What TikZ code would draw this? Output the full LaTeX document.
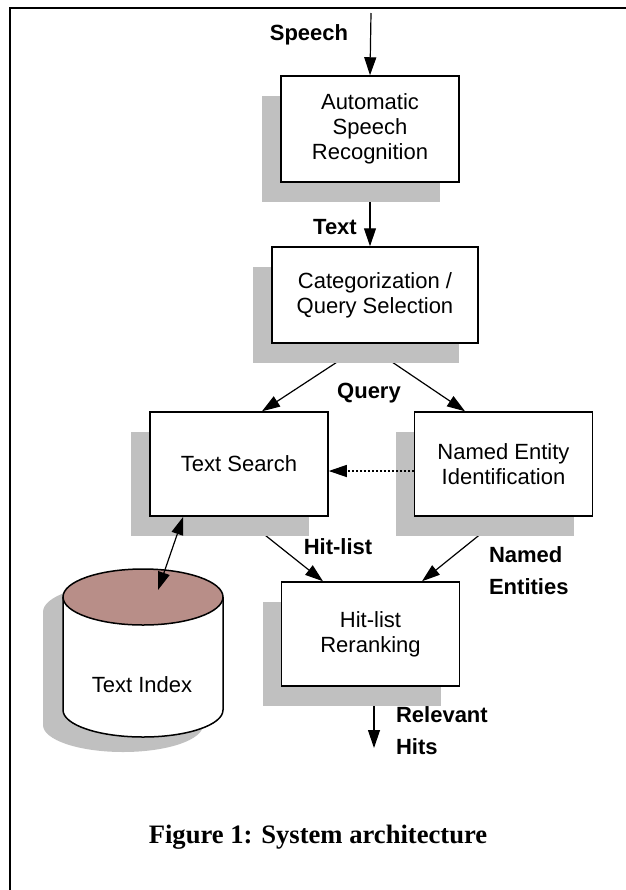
\documentclass[tikz,border=0pt]{standalone}
\usepackage{fontspec}
\setmainfont{Liberation Serif}
\setsansfont{Liberation Sans}
\usetikzlibrary{
  arrows.meta,
  backgrounds,
  calc,
  shadows,
  shapes.geometric
}
\definecolor{shadeGray}{HTML}{C0C0C0}
\definecolor{indexTop}{HTML}{B88E88}
\tikzset{
  every node/.style={font=\sffamily\fontsize{11}{12.5}\selectfont, text=black},
  tag/.style={font=\sffamily\bfseries\fontsize{11}{16}\selectfont, align=left},
  box/.style={
    draw,
    line width=0.75pt,
    fill=white,
    inner sep=0pt,
    minimum width=89pt,
    minimum height=52pt,
    align=center,
    drop shadow={shadow xshift=-9.5pt, shadow yshift=-9.75pt,
      fill=shadeGray, opacity=1}
  },
  lid/.style={
    ellipse,
    draw,
    line width=0.75pt,
    fill=indexTop,
    inner sep=0pt,
    minimum width=80pt,
    minimum height=28pt
  },
  flow/.style={
    -{Triangle[length=9pt,width=6pt]},
    line width=0.6pt
  },
  hint/.style={
    flow,
    dash pattern=on 1pt off 1pt
  }
}

\begin{document}
\begin{tikzpicture}[x=0.5pt,y=-0.5pt]
  \useasboundingbox (0,0) rectangle (626,890);

  % page frame
  \draw[line width=1.35pt] (10,890) -- (10,8) -- (626,8);

  % processing stages
  \node[box, minimum height=53pt] (asr) at (370,129) {Automatic\\Speech\\Recognition};
  \node[box, minimum width=103pt, minimum height=48pt] (cat) at (375,295)
    {Categorization /\\Query Selection};
  \node[box] (ts) at (239,464) {Text Search};
  \node[box] (ne) at (503.5,464) {Named Entity\\Identification};
  \node[box] (rr) at (370.5,634) {Hit-list\\Reranking};

  % index store: shadow, body, then the lid
  \begin{scope}[shift={(-20,15)}]
    \fill[shadeGray] (63,597) -- (63,710)
      arc[start angle=180, end angle=0, x radius=80, y radius=27]
      -- (223,597)
      arc[start angle=0, end angle=-180, x radius=80, y radius=28] -- cycle;
  \end{scope}
  \draw[line width=0.75pt, fill=white] (63,597) -- (63,710)
    arc[start angle=180, end angle=0, x radius=80, y radius=27]
    -- (223,597);
  \node[lid] (idx) at (143,597) {};
  \node (idxlabel) at (142,685) {Text Index};

  \coordinate (speechIn) at (371,13);
  \coordinate (hitsOut) at (374,748);

  % main data flow (runs under the shadows)
  \begin{scope}[on background layer]
    \draw[flow] (speechIn) -- (asr.north);
    \draw[flow] (asr.south) -- (asr.south |- cat.north);
    \draw[flow] ($(cat.south)+(-10,0)$) -- ($(ts.north)+(23,0)$);
    \draw[flow] ($(cat.south)+(-10,0)$) -- ($(ne.north)+(-38.5,0)$);
    \draw[flow] ($(ts.south)+(3,0)$) -- ($(rr.north)+(-47.5,0)$);
    \draw[flow] ($(ne.south)+(-1.5,0)$) -- ($(rr.north)+(51.5,0)$);
    \draw[flow] ($(rr.south)+(3.5,0)$) -- (hitsOut);
  \end{scope}

  \draw[hint] ($(ne.west)+(0,7)$) -- ($(ts.east)+(0,7)$);
  \draw[flow, {Triangle[length=9pt,width=6pt]}-{Triangle[length=9pt,width=6pt]}]
    ($(ts.south west)+(34,0)$) -- ($(idx.center)+(15,-7)$);

  % flow labels
  \node[tag] (lspeech) at (309,35) {Speech};
  \node[tag] (ltext) at (335,227) {Text};
  \node[tag] (lquery) at (369,393) {Query};
  \node[tag] (lhits) at (338,547) {Hit-list};
  \node[tag, anchor=west] (lnamed) at (482,571) {Named\\Entities};
  \node[tag, anchor=west] (lrel) at (389,731) {Relevant\\Hits};

  \node[font=\rmfamily\bfseries\fontsize{13.3}{16}\selectfont] (caption) at (318,837)
    {Figure 1: System architecture};
\end{tikzpicture}
\end{document}
